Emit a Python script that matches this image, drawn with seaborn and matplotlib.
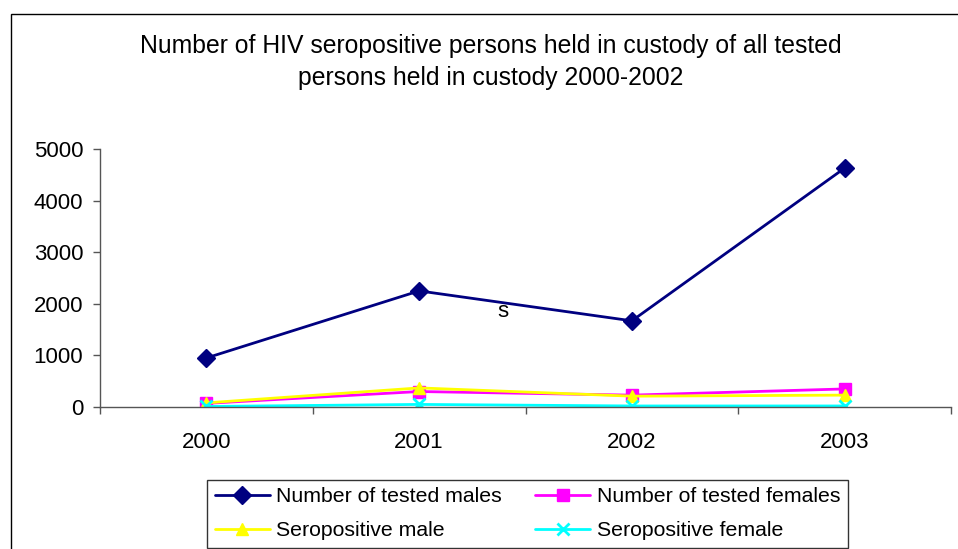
import numpy as np
import pandas as pd
import matplotlib
matplotlib.use("Agg")
import matplotlib.pyplot as plt
import seaborn as sns
from matplotlib.patches import Rectangle

# data
years = ["2000", "2001", "2002", "2003"]
tested_males = [950, 2250, 1670, 4630]
tested_females = [70, 300, 230, 350]
seropositive_male = [80, 370, 210, 230]
seropositive_female = [10, 50, 20, 20]

series_names = ["Number of tested males", "Number of tested females",
                "Seropositive male", "Seropositive female"]
colors = ["#000080", "#FF00FF", "#FFFF00", "#00FFFF"]
markers = ["D", "s", "^", "x"]
marker_sizes = [9, 9, 9, 9]

df = pd.DataFrame({
    "pos": list(range(len(years))) * 4,
    "value": tested_males + tested_females + seropositive_male + seropositive_female,
    "series": np.repeat(series_names, len(years)),
})

sns.set_style("white")
plt.rcParams["font.family"] = ["Liberation Sans", "DejaVu Sans"]
plt.rcParams["text.color"] = "black"
plt.rcParams["xtick.color"] = "black"
plt.rcParams["ytick.color"] = "black"

fig = plt.figure(figsize=(9.58, 5.49), dpi=100)
ax = fig.add_axes([100 / 958, 1 - 407 / 549, 851 / 958, 258 / 549])

for name, col, mk, ms in zip(series_names, colors, markers, marker_sizes):
    sub = df[df["series"] == name]
    sns.lineplot(data=sub, x="pos", y="value", ax=ax, color=col, marker=mk,
                 markersize=ms, linewidth=2, label=name,
                 markeredgecolor=col, markeredgewidth=2 if mk == "x" else 1)

ax.set_xlim(-0.5, 3.5)
ax.set_ylim(0, 5000)
ax.set_yticks(range(0, 5001, 1000))
ax.set_xticks([-0.5, 0.5, 1.5, 2.5, 3.5])
ax.set_xticklabels([])
ax.set_xticks(range(len(years)), minor=True)
ax.set_xticklabels(years, minor=True)
ax.tick_params(axis="x", which="major", length=5, width=1, color="#555555", direction="out", bottom=True)
ax.tick_params(axis="x", which="minor", length=0, pad=18, labelsize=16)
ax.tick_params(axis="y", length=5, width=1, color="#555555", direction="out", left=True, labelsize=16, pad=7)
ax.set_xlabel("")
ax.set_ylabel("")
for side in ["top", "right"]:
    ax.spines[side].set_visible(False)
for side in ["left", "bottom"]:
    ax.spines[side].set_color("#555555")
    ax.spines[side].set_linewidth(1)
ax.get_legend().remove()

# stray label present in the original
ax.text(1.394, 1860, "s", fontsize=16, ha="center", va="center")

fig.text(491 / 958, 1 - 46 / 549, "Number of HIV seropositive persons held in custody of all tested",
         ha="center", va="center", fontsize=17.8)
fig.text(491 / 958, 1 - 78 / 549, "persons held in custody 2000-2002",
         ha="center", va="center", fontsize=17.8)

# outer chart border
fig.patches.append(Rectangle((11 / 958, -0.02), 1.0, 1 - 14 / 549 + 0.02,
                             transform=fig.transFigure, fill=False,
                             edgecolor="black", linewidth=1))

handles, labels = ax.get_legend_handles_labels()
order = [0, 2, 1, 3]  # row-major fill like the original
leg = fig.legend([handles[i] for i in order], [labels[i] for i in order], ncol=2, loc="lower left",
                 bbox_to_anchor=(207 / 958, 1 / 549, 641 / 958, 67 / 549),
                 mode="expand", fontsize=15.3, frameon=True, fancybox=False,
                 handlelength=2.6, borderaxespad=0, handletextpad=0.3, columnspacing=1,
                 borderpad=0.36, labelspacing=0.7)
leg.get_frame().set_edgecolor("black")
leg.get_frame().set_linewidth(1)

fig.savefig("out.png", dpi=100)
